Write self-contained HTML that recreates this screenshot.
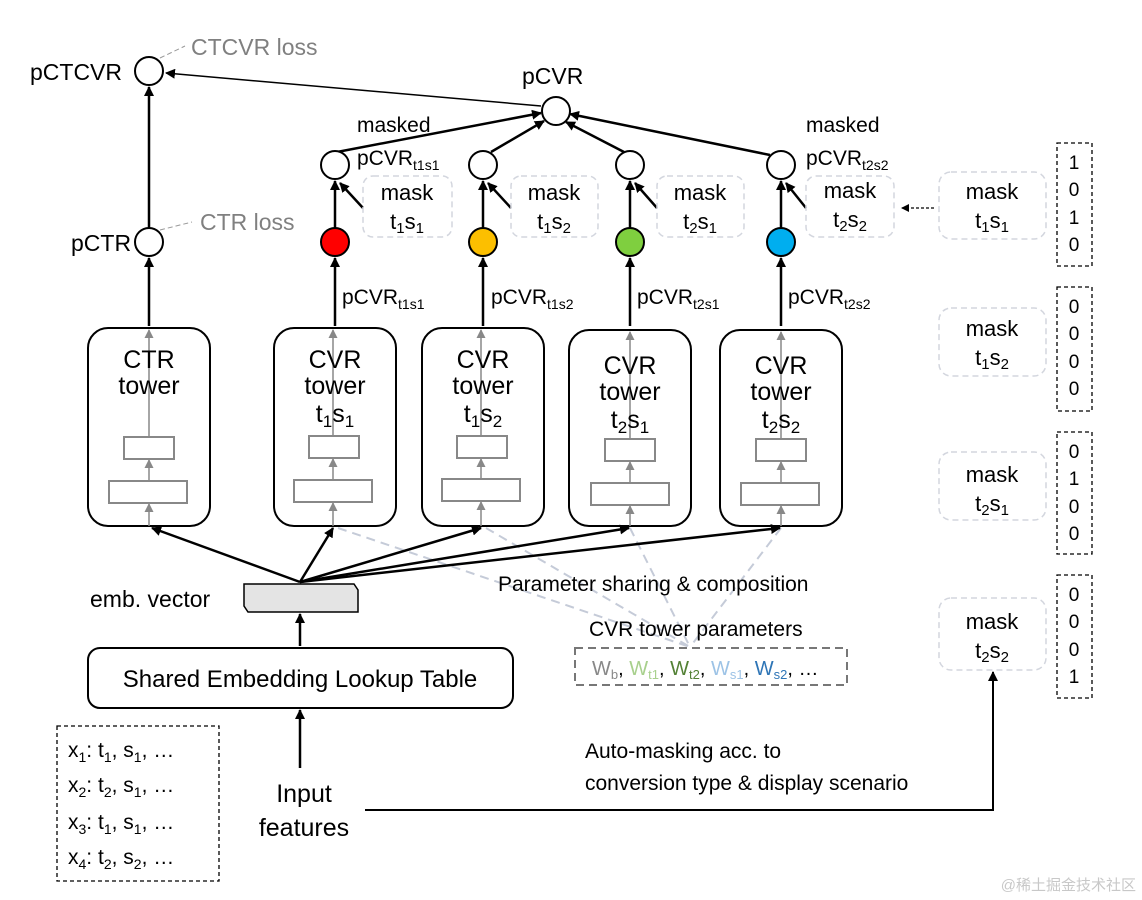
<!DOCTYPE html>
<html><head><meta charset="utf-8"><style>
html,body{margin:0;padding:0;background:#fff}
svg{display:block;font-family:"Liberation Sans",sans-serif}
</style></head><body>
<svg width="1142" height="900" viewBox="0 0 1142 900" xmlns="http://www.w3.org/2000/svg">
<defs>
<marker id="ab" markerWidth="10" markerHeight="10" refX="9" refY="5" orient="auto" markerUnits="userSpaceOnUse"><path d="M0,0 L10,5 L0,10 z" fill="#000"/></marker>
<marker id="ag" markerWidth="9" markerHeight="9" refX="8" refY="4.5" orient="auto" markerUnits="userSpaceOnUse"><path d="M0,0 L9,4.5 L0,9 z" fill="#888"/></marker>
<marker id="as" markerWidth="8" markerHeight="8" refX="7" refY="4" orient="auto" markerUnits="userSpaceOnUse"><path d="M0,0 L8,4 L0,8 z" fill="#000"/></marker>
</defs>

<g stroke="#c5cbd8" stroke-width="2" stroke-dasharray="9,6" fill="none">
<line x1="338" y1="528" x2="690" y2="647"/>
<line x1="486" y1="528" x2="690" y2="647"/>
<line x1="630" y1="528" x2="690" y2="647"/>
<line x1="781" y1="528" x2="690" y2="647"/>
</g>

<g fill="none" stroke="#000" stroke-width="2">
<rect x="88" y="328" width="122" height="198" rx="20"/>
<rect x="274" y="328" width="122" height="198" rx="20"/>
<rect x="422" y="328" width="122" height="198" rx="20"/>
<rect x="569" y="330" width="122" height="196" rx="20"/>
<rect x="720" y="330" width="122" height="196" rx="20"/>
</g>
<g fill="none" stroke="#888" stroke-width="2">
<rect x="124" y="437" width="50" height="22"/><rect x="109" y="481" width="78" height="22"/>
<rect x="309" y="436" width="50" height="22"/><rect x="294" y="480" width="78" height="22"/>
<rect x="457" y="436" width="50" height="22"/><rect x="442" y="479" width="78" height="22"/>
<rect x="605" y="439" width="50" height="22"/><rect x="591" y="483" width="78" height="22"/>
<rect x="756" y="439" width="50" height="22"/><rect x="741" y="483" width="78" height="22"/>
</g>
<g stroke="#888" stroke-width="1.5" marker-end="url(#ag)">
<line x1="149" y1="526" x2="149" y2="504"/><line x1="149" y1="480" x2="149" y2="460"/><line x1="149" y1="436" x2="149" y2="330"/>
<line x1="333" y1="526" x2="333" y2="503"/><line x1="333" y1="479" x2="333" y2="459"/><line x1="333" y1="435" x2="333" y2="330"/>
<line x1="481" y1="526" x2="481" y2="502"/><line x1="481" y1="478" x2="481" y2="459"/><line x1="481" y1="435" x2="481" y2="330"/>
<line x1="630" y1="526" x2="630" y2="506"/><line x1="630" y1="482" x2="630" y2="462"/><line x1="630" y1="438" x2="630" y2="332"/>
<line x1="781" y1="526" x2="781" y2="506"/><line x1="781" y1="482" x2="781" y2="462"/><line x1="781" y1="438" x2="781" y2="332"/>
</g>
<g font-size="25" text-anchor="middle" fill="#000">
<text x="149" y="368">CTR</text><text x="149" y="394">tower</text>
<text x="335" y="368">CVR</text><text x="335" y="394">tower</text><text x="335" y="422">t<tspan font-size="17" dy="5">1</tspan><tspan dy="-5">s</tspan><tspan font-size="17" dy="5">1</tspan></text>
<text x="483" y="368">CVR</text><text x="483" y="394">tower</text><text x="483" y="422">t<tspan font-size="17" dy="5">1</tspan><tspan dy="-5">s</tspan><tspan font-size="17" dy="5">2</tspan></text>
<text x="630" y="374">CVR</text><text x="630" y="400">tower</text><text x="630" y="428">t<tspan font-size="17" dy="5">2</tspan><tspan dy="-5">s</tspan><tspan font-size="17" dy="5">1</tspan></text>
<text x="781" y="374">CVR</text><text x="781" y="400">tower</text><text x="781" y="428">t<tspan font-size="17" dy="5">2</tspan><tspan dy="-5">s</tspan><tspan font-size="17" dy="5">2</tspan></text>
</g>

<g stroke="#000" stroke-width="2.5" marker-end="url(#ab)" fill="none">
<line x1="300" y1="582" x2="152" y2="528"/>
<line x1="300" y1="582" x2="333" y2="528"/>
<line x1="300" y1="582" x2="481" y2="528"/>
<line x1="300" y1="582" x2="629" y2="528"/>
<line x1="300" y1="582" x2="780" y2="528"/>
<line x1="300" y1="646" x2="300" y2="614"/>
<line x1="300" y1="768" x2="300" y2="710"/>
</g>
<path d="M244,584 L354,584 L358,590 L358,612 L248,612 L244,606 Z" fill="#e4e4e4" stroke="#000" stroke-width="1.5"/>
<text x="90" y="607" font-size="23">emb. vector</text>
<rect x="88" y="648" width="425" height="60" rx="12" fill="none" stroke="#000" stroke-width="2"/>
<text x="300" y="687" font-size="24" text-anchor="middle">Shared Embedding Lookup Table</text>

<g stroke="#000" stroke-width="2.5" marker-end="url(#ab)" fill="none">
<line x1="149" y1="326" x2="149" y2="258"/>
<line x1="149" y1="228" x2="149" y2="87"/>
<line x1="335" y1="326" x2="335" y2="258"/>
<line x1="483" y1="326" x2="483" y2="258"/>
<line x1="630" y1="326" x2="630" y2="258"/>
<line x1="781" y1="326" x2="781" y2="258"/>
<line x1="335" y1="228" x2="335" y2="181"/>
<line x1="483" y1="228" x2="483" y2="181"/>
<line x1="630" y1="228" x2="630" y2="181"/>
<line x1="781" y1="228" x2="781" y2="181"/>
<line x1="363" y1="208" x2="340" y2="183"/>
<line x1="511" y1="208" x2="488" y2="183"/>
<line x1="657" y1="208" x2="635" y2="183"/>
<line x1="806" y1="208" x2="786" y2="183"/>
<line x1="337" y1="152" x2="541" y2="113"/>
<line x1="491" y1="152" x2="544" y2="121"/>
<line x1="624" y1="152" x2="566" y2="122"/>
<line x1="770" y1="155" x2="570" y2="114"/>
</g>
<line x1="541" y1="106" x2="166" y2="73" stroke="#000" stroke-width="1.5" marker-end="url(#ab)"/>
<g stroke="#999" stroke-width="1" stroke-dasharray="5,3">
<line x1="160" y1="58" x2="185" y2="46"/>
<line x1="160" y1="230" x2="192" y2="222"/>
</g>

<g stroke="#000" stroke-width="2">
<circle cx="149" cy="71" r="14" fill="#fff"/>
<circle cx="149" cy="242" r="14" fill="#fff"/>
<circle cx="556" cy="111" r="14" fill="#fff"/>
<circle cx="335" cy="165" r="14" fill="#fff"/>
<circle cx="483" cy="165" r="14" fill="#fff"/>
<circle cx="630" cy="165" r="14" fill="#fff"/>
<circle cx="781" cy="165" r="14" fill="#fff"/>
<circle cx="335" cy="242" r="14" fill="#f00"/>
<circle cx="483" cy="242" r="14" fill="#fcbf00"/>
<circle cx="630" cy="242" r="14" fill="#7fcf3f"/>
<circle cx="781" cy="242" r="14" fill="#00aeef"/>
</g>

<g font-size="23" fill="#000">
<text x="30" y="80">pCTCVR</text>
<text x="71" y="251">pCTR</text>
<text x="522" y="84">pCVR</text>
<text x="191" y="55" fill="#808080">CTCVR loss</text>
<text x="200" y="230" fill="#808080">CTR loss</text>
<text x="357" y="132" font-size="21">masked</text>
<text x="357" y="165" font-size="21">pCVR<tspan font-size="14" dy="5">t1s1</tspan></text>
<text x="806" y="132" font-size="21">masked</text>
<text x="806" y="165" font-size="21">pCVR<tspan font-size="14" dy="5">t2s2</tspan></text>
<text x="342" y="304" font-size="21">pCVR<tspan font-size="14" dy="5">t1s1</tspan></text>
<text x="491" y="304" font-size="21">pCVR<tspan font-size="14" dy="5">t1s2</tspan></text>
<text x="637" y="304" font-size="21">pCVR<tspan font-size="14" dy="5">t2s1</tspan></text>
<text x="788" y="304" font-size="21">pCVR<tspan font-size="14" dy="5">t2s2</tspan></text>
</g>

<g fill="none" stroke="#d3d6de" stroke-width="1.5" stroke-dasharray="6,4">
<rect x="363" y="176" width="89" height="61" rx="10"/>
<rect x="511" y="176" width="87" height="61" rx="10"/>
<rect x="657" y="176" width="87" height="61" rx="10"/>
<rect x="806" y="176" width="88" height="61" rx="10"/>
<rect x="939" y="172" width="107" height="67" rx="12"/>
<rect x="939" y="308" width="107" height="68" rx="12"/>
<rect x="939" y="452" width="107" height="68" rx="12"/>
<rect x="939" y="598" width="107" height="72" rx="12"/>
</g>
<g font-size="22" text-anchor="middle" fill="#000">
<text x="407" y="200">mask</text><text x="407" y="229">t<tspan font-size="15" dy="4">1</tspan><tspan dy="-4">s</tspan><tspan font-size="15" dy="4">1</tspan></text>
<text x="554" y="200">mask</text><text x="554" y="229">t<tspan font-size="15" dy="4">1</tspan><tspan dy="-4">s</tspan><tspan font-size="15" dy="4">2</tspan></text>
<text x="700" y="200">mask</text><text x="700" y="229">t<tspan font-size="15" dy="4">2</tspan><tspan dy="-4">s</tspan><tspan font-size="15" dy="4">1</tspan></text>
<text x="850" y="198">mask</text><text x="850" y="227">t<tspan font-size="15" dy="4">2</tspan><tspan dy="-4">s</tspan><tspan font-size="15" dy="4">2</tspan></text>
<text x="992" y="199">mask</text><text x="992" y="228">t<tspan font-size="15" dy="4">1</tspan><tspan dy="-4">s</tspan><tspan font-size="15" dy="4">1</tspan></text>
<text x="992" y="336">mask</text><text x="992" y="365">t<tspan font-size="15" dy="4">1</tspan><tspan dy="-4">s</tspan><tspan font-size="15" dy="4">2</tspan></text>
<text x="992" y="482">mask</text><text x="992" y="511">t<tspan font-size="15" dy="4">2</tspan><tspan dy="-4">s</tspan><tspan font-size="15" dy="4">1</tspan></text>
<text x="992" y="629">mask</text><text x="992" y="658">t<tspan font-size="15" dy="4">2</tspan><tspan dy="-4">s</tspan><tspan font-size="15" dy="4">2</tspan></text>
</g>
<line x1="934" y1="208" x2="902" y2="208" stroke="#000" stroke-width="1.3" stroke-dasharray="3,2" marker-end="url(#as)"/>

<g fill="none" stroke="#000" stroke-width="1.3" stroke-dasharray="4,3">
<rect x="1057" y="143" width="35" height="123"/>
<rect x="1057" y="287" width="35" height="124"/>
<rect x="1057" y="432" width="35" height="122"/>
<rect x="1057" y="575" width="35" height="123"/>
</g>
<g font-size="19" text-anchor="middle" fill="#000">
<text x="1074" y="169">1</text><text x="1074" y="196">0</text><text x="1074" y="224">1</text><text x="1074" y="251">0</text>
<text x="1074" y="313">0</text><text x="1074" y="340">0</text><text x="1074" y="368">0</text><text x="1074" y="395">0</text>
<text x="1074" y="458">0</text><text x="1074" y="485">1</text><text x="1074" y="513">0</text><text x="1074" y="540">0</text>
<text x="1074" y="601">0</text><text x="1074" y="628">0</text><text x="1074" y="656">0</text><text x="1074" y="683">1</text>
</g>

<text x="498" y="591" font-size="21">Parameter sharing &amp; composition</text>
<text x="589" y="636" font-size="21">CVR tower parameters</text>
<rect x="575" y="648" width="272" height="37" fill="none" stroke="#777" stroke-width="2" stroke-dasharray="8,5"/>
<text x="592" y="675" font-size="20"><tspan fill="#888">W<tspan font-size="13" dy="4">b</tspan></tspan><tspan fill="#000" dy="-4">, </tspan><tspan fill="#a8d08d">W<tspan font-size="13" dy="4">t1</tspan></tspan><tspan fill="#000" dy="-4">, </tspan><tspan fill="#538135">W<tspan font-size="13" dy="4">t2</tspan></tspan><tspan fill="#000" dy="-4">, </tspan><tspan fill="#9dc3e6">W<tspan font-size="13" dy="4">s1</tspan></tspan><tspan fill="#000" dy="-4">, </tspan><tspan fill="#2e75b6">W<tspan font-size="13" dy="4">s2</tspan></tspan><tspan fill="#000" dy="-4">, …</tspan></text>

<rect x="57" y="726" width="162" height="155" fill="none" stroke="#000" stroke-width="1.3" stroke-dasharray="4,3"/>
<g font-size="21" fill="#000">
<text x="68" y="757">x<tspan font-size="14" dy="5">1</tspan><tspan dy="-5">: t</tspan><tspan font-size="14" dy="5">1</tspan><tspan dy="-5">, s</tspan><tspan font-size="14" dy="5">1</tspan><tspan dy="-5">, …</tspan></text>
<text x="68" y="792">x<tspan font-size="14" dy="5">2</tspan><tspan dy="-5">: t</tspan><tspan font-size="14" dy="5">2</tspan><tspan dy="-5">, s</tspan><tspan font-size="14" dy="5">1</tspan><tspan dy="-5">, …</tspan></text>
<text x="68" y="829">x<tspan font-size="14" dy="5">3</tspan><tspan dy="-5">: t</tspan><tspan font-size="14" dy="5">1</tspan><tspan dy="-5">, s</tspan><tspan font-size="14" dy="5">1</tspan><tspan dy="-5">, …</tspan></text>
<text x="68" y="864">x<tspan font-size="14" dy="5">4</tspan><tspan dy="-5">: t</tspan><tspan font-size="14" dy="5">2</tspan><tspan dy="-5">, s</tspan><tspan font-size="14" dy="5">2</tspan><tspan dy="-5">, …</tspan></text>
</g>
<text x="304" y="802" font-size="25" text-anchor="middle">Input</text>
<text x="304" y="836" font-size="25" text-anchor="middle">features</text>
<path d="M365,810 L993,810 L993,672" fill="none" stroke="#000" stroke-width="2" marker-end="url(#ab)"/>
<text x="585" y="758" font-size="21">Auto-masking acc. to</text>
<text x="585" y="790" font-size="21">conversion type &amp; display scenario</text>
<text x="1136" y="890" font-size="15" fill="#c8c8c8" text-anchor="end" font-family="'Liberation Sans','Noto Sans CJK SC',sans-serif">@稀土掘金技术社区</text>
</svg>
</body></html>
